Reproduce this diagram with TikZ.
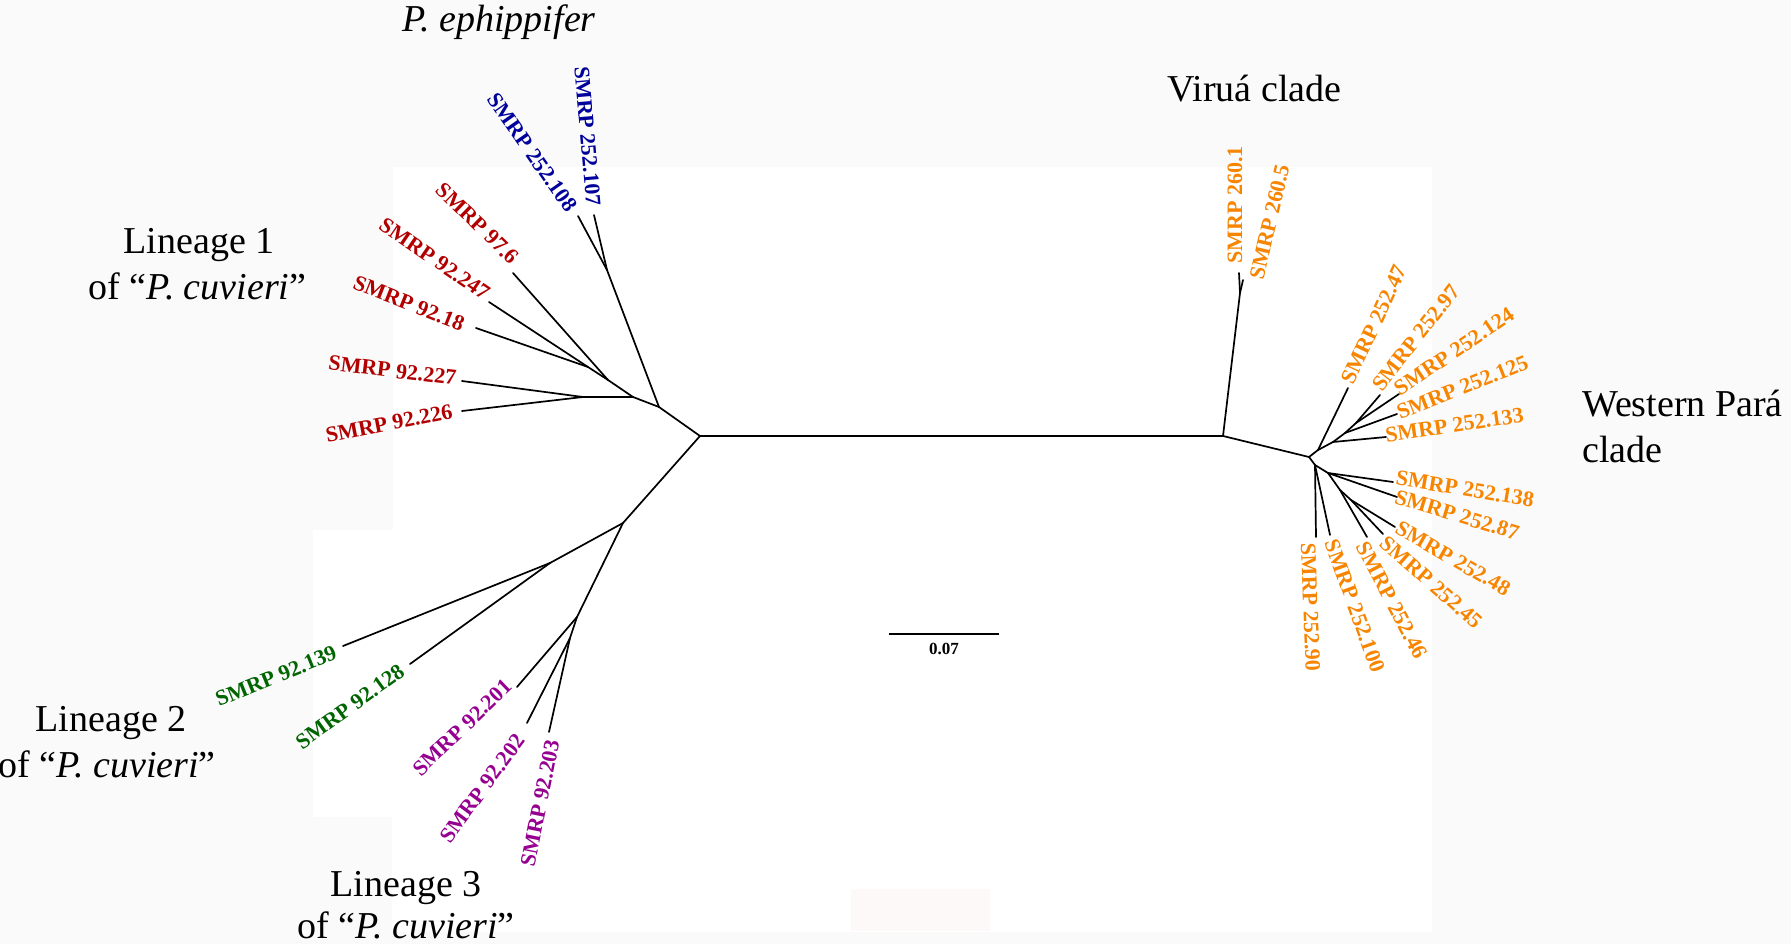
\documentclass[tikz,border=0pt]{standalone}
\usepackage{fontspec}
\setmainfont{Liberation Serif}
\definecolor{bggray}{RGB}{250,250,250}
\definecolor{pinkish}{RGB}{253,249,249}
\definecolor{cblue}{RGB}{0,0,155}
\definecolor{cred}{RGB}{178,0,0}
\definecolor{cgreen}{RGB}{0,100,0}
\definecolor{cpurple}{RGB}{150,0,145}
\definecolor{corange}{RGB}{247,133,0}
\begin{document}
\begin{tikzpicture}[x=1pt,y=-1pt,
  br/.style={line width=1.7pt, line cap=round},
  leaf/.style={font=\fontsize{22}{26}\selectfont\bfseries, inner sep=0pt},
  clade/.style={font=\fontsize{38}{46}\selectfont, inner sep=0pt, anchor=base}]
\useasboundingbox (0,0) rectangle (1791,944);
\fill[bggray] (0,0) rectangle (1791,944);
\fill[white] (393,167) -- (1432,167) -- (1432,932) -- (392,932) -- (392,817) -- (313,817) -- (313,530) -- (393,530) -- cycle;
\fill[pinkish] (851,889) rectangle (990,931);
% internal nodes
\coordinate (Lm) at (700,436);
\coordinate (R) at (1223,436);
\coordinate (J1) at (659,407);
\coordinate (B) at (607,270);
\coordinate (A) at (633,397);
\coordinate (P) at (583,397);
\coordinate (C1) at (608,380);
\coordinate (C2) at (588,367);
\coordinate (D) at (623,523);
\coordinate (G) at (550,563);
\coordinate (M1) at (577,617);
\coordinate (M2) at (570,638);
\coordinate (V) at (1240,293);
\coordinate (W) at (1309,457);
\coordinate (U1) at (1318,450);
\coordinate (U2) at (1333,442);
\coordinate (U3) at (1345,433);
\coordinate (U4) at (1356,423);
\coordinate (L1) at (1315,465);
\coordinate (L2) at (1328,473);
\coordinate (L3) at (1340,490);
\coordinate (L4) at (1351,500);
% tips
\coordinate (t107) at (594,215);
\coordinate (t108) at (578,216);
\coordinate (t976) at (513,273);
\coordinate (t247) at (489,302);
\coordinate (t18) at (476,328);
\coordinate (t227) at (462,381);
\coordinate (t226) at (462,411);
\coordinate (t139) at (343,646);
\coordinate (t128) at (410,664);
\coordinate (t201) at (517,687);
\coordinate (t202) at (527,723);
\coordinate (t203) at (549,732);
\coordinate (t2601) at (1239,273);
\coordinate (t2605) at (1243,280);
\coordinate (t47) at (1348,388);
\coordinate (t97) at (1380,395);
\coordinate (t124) at (1399,394);
\coordinate (t125) at (1397,414);
\coordinate (t133) at (1386,437);
\coordinate (t138) at (1393,482);
\coordinate (t87) at (1397,497);
\coordinate (t48) at (1395,527);
\coordinate (t45) at (1383,534);
\coordinate (t46) at (1367,537);
\coordinate (t100) at (1330,535);
\coordinate (t90) at (1316,537);
% branches
\draw[br] (Lm) -- (R);
\draw[br] (Lm) -- (J1);
\draw[br] (J1) -- (B);
\draw[br] (B) -- (t107);
\draw[br] (B) -- (t108);
\draw[br] (J1) -- (A);
\draw[br] (A) -- (P);
\draw[br] (P) -- (t227);
\draw[br] (P) -- (t226);
\draw[br] (A) -- (C1);
\draw[br] (C1) -- (t976);
\draw[br] (C1) -- (C2);
\draw[br] (C2) -- (t247);
\draw[br] (C2) -- (t18);
\draw[br] (Lm) -- (D);
\draw[br] (D) -- (G);
\draw[br] (G) -- (t139);
\draw[br] (G) -- (t128);
\draw[br] (D) -- (M1);
\draw[br] (M1) -- (t201);
\draw[br] (M1) -- (M2);
\draw[br] (M2) -- (t202);
\draw[br] (M2) -- (t203);
\draw[br] (R) -- (V);
\draw[br] (V) -- (t2601);
\draw[br] (V) -- (t2605);
\draw[br] (R) -- (W);
\draw[br] (W) -- (U1);
\draw[br] (U1) -- (t47);
\draw[br] (U1) -- (U2);
\draw[br] (U2) -- (t133);
\draw[br] (U2) -- (U3);
\draw[br] (U3) -- (t125);
\draw[br] (U3) -- (U4);
\draw[br] (U4) -- (t97);
\draw[br] (U4) -- (t124);
\draw[br] (W) -- (L1);
\draw[br] (L1) -- (t90);
\draw[br] (L1) -- (t100);
\draw[br] (L1) -- (L2);
\draw[br] (L2) -- (t138);
\draw[br] (L2) -- (t87);
\draw[br] (L2) -- (L3);
\draw[br] (L3) -- (t46);
\draw[br] (L3) -- (L4);
\draw[br] (L4) -- (t48);
\draw[br] (L4) -- (t45);
% leaf labels
\node[leaf,text=cblue,rotate=-85] (n107) at (587.5,136) {SMRP 252.107};
\node[leaf,text=cblue,rotate=-55] (n108) at (532.5,152.5) {SMRP 252.108};
\node[leaf,text=cred,rotate=-44] (n976) at (477.5,223.5) {SMRP 97.6};
\node[leaf,text=cred,rotate=-34.4] (n247) at (434.5,259) {SMRP 92.247};
\node[leaf,text=cred,rotate=-21.7] (n18) at (409,303.5) {SMRP 92.18};
\node[leaf,text=cred,rotate=-6.8] (n227) at (392.5,370.5) {SMRP 92.227};
\node[leaf,text=cred,rotate=11] (n226) at (389,423.5) {SMRP 92.226};
\node[leaf,text=cgreen,rotate=22] (n139) at (276,676) {SMRP 92.139};
\node[leaf,text=cgreen,rotate=36] (n128) at (350,706.5) {SMRP 92.128};
\node[leaf,text=cpurple,rotate=43.8] (n201) at (462.5,727.5) {SMRP 92.201};
\node[leaf,text=cpurple,rotate=53.6] (n202) at (482.5,788.5) {SMRP 92.202};
\node[leaf,text=cpurple,rotate=78.7] (n203) at (540,803) {SMRP 92.203};
\node[leaf,text=corange,rotate=90] (n2601) at (1235,205) {SMRP 260.1};
\node[leaf,text=corange,rotate=77] (n2605) at (1269.5,222) {SMRP 260.5};
\node[leaf,text=corange,rotate=65] (n47) at (1374,324.5) {SMRP 252.47};
\node[leaf,text=corange,rotate=52] (n97) at (1416,338) {SMRP 252.97};
\node[leaf,text=corange,rotate=34] (n124) at (1454,351.5) {SMRP 252.124};
\node[leaf,text=corange,rotate=21.6] (n125) at (1462.5,387.5) {SMRP 252.125};
\node[leaf,text=corange,rotate=8.4] (n133) at (1454.5,425) {SMRP 252.133};
\node[leaf,text=corange,rotate=-9.3] (n138) at (1465,489) {SMRP 252.138};
\node[leaf,text=corange,rotate=-16.7] (n87) at (1457,515) {SMRP 252.87};
\node[leaf,text=corange,rotate=-29.8] (n48) at (1453,558.5) {SMRP 252.48};
\node[leaf,text=corange,rotate=-41.2] (n45) at (1431.5,582.5) {SMRP 252.45};
\node[leaf,text=corange,rotate=-62.4] (n46) at (1392,600.5) {SMRP 252.46};
\node[leaf,text=corange,rotate=-70.2] (n100) at (1355,606) {SMRP 252.100};
\node[leaf,text=corange,rotate=-87.7] (n90) at (1310.5,607.5) {SMRP 252.90};
% clade labels
\node[clade] (peph) at (499,32) {\textit{P. ephippifer}};
\node[clade] (vir) at (1254.5,102) {Viruá clade};
\node[clade] (lin1a) at (199,253) {Lineage 1};
\node[clade] (lin1b) at (197.5,299) {of “\textit{P. cuvieri}”};
\node[clade] (lin2a) at (111,731) {Lineage 2};
\node[clade] (lin2b) at (107,777) {of “\textit{P. cuvieri}”};
\node[clade] (lin3a) at (406,896) {Lineage 3};
\node[clade] (lin3b) at (406,938) {of “\textit{P. cuvieri}”};
\node[clade,anchor=base west] (wpa) at (1582,416) {Western Pará};
\node[clade,anchor=base west] (wpb) at (1582,462) {clade};
% scale bar
\coordinate (sb1) at (889,634);
\coordinate (sb2) at (999,634);
\draw[line width=1.7pt] (sb1) -- (sb2);
\node[font=\fontsize{17}{20}\selectfont\bfseries, inner sep=0pt, anchor=base] (sbl) at (944,654) {0.07};
\end{tikzpicture}
\end{document}
